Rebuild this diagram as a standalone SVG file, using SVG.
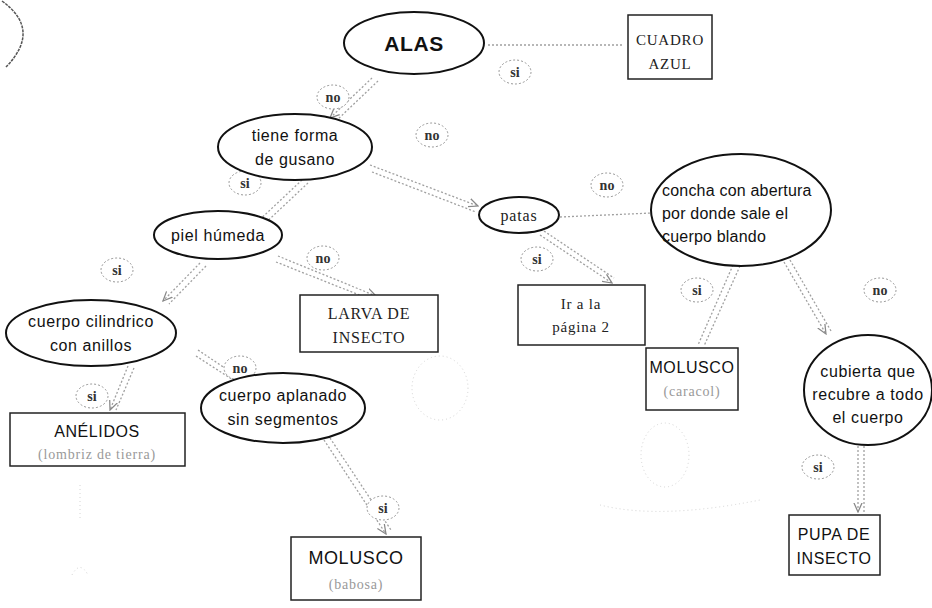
<svg xmlns="http://www.w3.org/2000/svg" width="932" height="608" viewBox="0 0 932 608">
<style>
.n{fill:#fff;stroke:#111;stroke-width:2}
.b{fill:#fff;stroke:#222;stroke-width:1.5}
.t{font-family:"Liberation Sans",Arial,sans-serif;font-size:16px;fill:#111;text-anchor:middle;letter-spacing:0.6px}
.s{font-family:"Liberation Serif","Times New Roman",serif;font-size:16px;fill:#222;text-anchor:middle;letter-spacing:0.8px}
.g{font-family:"Liberation Serif","Times New Roman",serif;font-size:14px;fill:#999;text-anchor:middle;letter-spacing:0.8px}
.c{fill:none;stroke:#a0a0a0;stroke-width:1.3;stroke-dasharray:2 2}
.lc{fill:#fff;stroke:#999;stroke-width:1;stroke-dasharray:2 2}
.lt{font-family:"Liberation Serif","Times New Roman",serif;font-size:14px;font-weight:bold;fill:#333;text-anchor:middle}
.f{fill:none;stroke:#d4d4d4;stroke-width:1;stroke-dasharray:1 3}
</style>
<defs>
<marker id="a" viewBox="0 0 10 10" refX="9" refY="5" markerWidth="8" markerHeight="8" orient="auto">
<path d="M0,1 L9,5 L0,9" fill="none" stroke="#888" stroke-width="1.2"/>
</marker>
</defs>
<rect width="932" height="608" fill="#fff"/>
<path d="M 2 1 Q 42 30 6 67" fill="none" stroke="#555" stroke-width="1.5" stroke-dasharray="3 1"/>
<g id="faint">
<ellipse cx="440" cy="388" rx="28" ry="32" class="f"/>
<ellipse cx="665" cy="455" rx="24" ry="32" class="f"/>
<path d="M 600 505 Q 660 520 760 500" class="f"/>
<path d="M 80 485 L 80 520 M 72 575 Q 80 560 88 575" class="f"/>
</g>
<g id="connectors">
<path class="c" d="M 488 45 L 622 45"/>
<path class="c" d="M 372 78 L 330 118" marker-end="url(#a)"/>
<path class="c" d="M 378 81 L 336 121"/>
<path class="c" d="M 370 165 L 478 206" marker-end="url(#a)"/>
<path class="c" d="M 372 172 L 476 212"/>
<path class="c" d="M 302 180 L 253 226" marker-end="url(#a)"/>
<path class="c" d="M 308 183 L 259 229"/>
<path class="c" d="M 200 263 L 163 301" marker-end="url(#a)"/>
<path class="c" d="M 206 266 L 169 304"/>
<path class="c" d="M 278 256 L 376 296" marker-end="url(#a)"/>
<path class="c" d="M 276 262 L 372 300"/>
<path class="c" d="M 128 366 L 110 410" marker-end="url(#a)"/>
<path class="c" d="M 134 368 L 116 410"/>
<path class="c" d="M 198 350 L 265 395" marker-end="url(#a)"/>
<path class="c" d="M 196 356 L 261 398"/>
<path class="c" d="M 324 440 L 386 534" marker-end="url(#a)"/>
<path class="c" d="M 330 438 L 391 530"/>
<path class="c" d="M 540 235 L 612 283" marker-end="url(#a)"/>
<path class="c" d="M 544 231 L 614 278"/>
<path class="c" d="M 560 217 L 652 213"/>
<path class="c" d="M 733 265 L 698 345"/>
<path class="c" d="M 740 266 L 704 346"/>
<path class="c" d="M 784 262 L 826 334" marker-end="url(#a)"/>
<path class="c" d="M 790 260 L 831 331"/>
<path class="c" d="M 858 446 L 858 512" marker-end="url(#a)"/>
<path class="c" d="M 864 446 L 864 512"/>
</g>
<g id="labels">
<ellipse class="lc" cx="515" cy="72" rx="16" ry="12"/><text class="lt" x="515" y="77">si</text>
<ellipse class="lc" cx="333" cy="97" rx="16" ry="12"/><text class="lt" x="333" y="102">no</text>
<ellipse class="lc" cx="432" cy="135" rx="16" ry="12"/><text class="lt" x="432" y="140">no</text>
<ellipse class="lc" cx="245" cy="183" rx="16" ry="12"/><text class="lt" x="245" y="188">si</text>
<ellipse class="lc" cx="117" cy="270" rx="16" ry="12"/><text class="lt" x="117" y="275">si</text>
<ellipse class="lc" cx="323" cy="258" rx="16" ry="12"/><text class="lt" x="323" y="263">no</text>
<ellipse class="lc" cx="240" cy="368" rx="16" ry="12"/><text class="lt" x="240" y="373">no</text>
<ellipse class="lc" cx="92" cy="396" rx="16" ry="12"/><text class="lt" x="92" y="401">si</text>
<ellipse class="lc" cx="383" cy="508" rx="16" ry="12"/><text class="lt" x="383" y="513">si</text>
<ellipse class="lc" cx="607" cy="185" rx="16" ry="12"/><text class="lt" x="607" y="190">no</text>
<ellipse class="lc" cx="537" cy="259" rx="16" ry="12"/><text class="lt" x="537" y="264">si</text>
<ellipse class="lc" cx="697" cy="290" rx="16" ry="12"/><text class="lt" x="697" y="295">si</text>
<ellipse class="lc" cx="880" cy="290" rx="16" ry="12"/><text class="lt" x="880" y="295">no</text>
<ellipse class="lc" cx="818" cy="467" rx="16" ry="12"/><text class="lt" x="818" y="472">si</text>
</g>
<g id="alas">
<ellipse class="n" cx="414" cy="43" rx="70" ry="31" stroke-width="2.5"/>
<text class="t" x="414" y="51" style="font-size:21px;font-weight:bold">ALAS</text>
</g>
<g id="cuadro-azul">
<rect class="b" x="628" y="15" width="84" height="64"/>
<text class="s" x="670" y="45" style="font-size:15px">CUADRO</text>
<text class="s" x="670" y="69" style="font-size:15px">AZUL</text>
</g>
<g id="tiene-forma">
<ellipse class="n" cx="295" cy="147" rx="77" ry="33"/>
<text class="t" x="295" y="141">tiene forma</text>
<text class="t" x="295" y="165">de gusano</text>
</g>
<g id="piel-humeda">
<ellipse class="n" cx="218" cy="235" rx="64" ry="24"/>
<text class="t" x="218" y="241">piel húmeda</text>
</g>
<g id="larva">
<rect class="b" x="300" y="295" width="138" height="57"/>
<text class="s" x="369" y="319">LARVA DE</text>
<text class="s" x="369" y="343">INSECTO</text>
</g>
<g id="cuerpo-cilindrico">
<ellipse class="n" cx="91" cy="333" rx="85" ry="33"/>
<text class="t" x="91" y="327">cuerpo cilindrico</text>
<text class="t" x="91" y="351">con anillos</text>
</g>
<g id="anelidos">
<rect class="b" x="10" y="413" width="175" height="53"/>
<text class="t" x="97" y="437">ANÉLIDOS</text>
<text class="g" x="97" y="459">(lombriz de tierra)</text>
</g>
<g id="cuerpo-aplanado">
<ellipse class="n" cx="283" cy="408" rx="82" ry="35"/>
<text class="t" x="283" y="401">cuerpo aplanado</text>
<text class="t" x="283" y="425">sin segmentos</text>
</g>
<g id="molusco-babosa">
<rect class="b" x="291" y="537" width="130" height="63"/>
<text class="t" x="356" y="564" style="font-size:18px">MOLUSCO</text>
<text class="g" x="356" y="589">(babosa)</text>
</g>
<g id="patas">
<ellipse class="n" cx="519" cy="215" rx="40" ry="18"/>
<text class="s" x="519" y="221">patas</text>
</g>
<g id="pagina2">
<rect class="b" x="518" y="285" width="127" height="60"/>
<text class="s" x="581" y="309" style="font-size:15px">Ir a la</text>
<text class="s" x="581" y="332" style="font-size:15px">página 2</text>
</g>
<g id="concha">
<ellipse class="n" cx="741" cy="210" rx="90" ry="56"/>
<text class="t" x="662" y="196" style="text-anchor:start;letter-spacing:0.2px">concha con abertura</text>
<text class="t" x="662" y="219" style="text-anchor:start;letter-spacing:0.2px">por donde sale el</text>
<text class="t" x="662" y="242" style="text-anchor:start;letter-spacing:0.2px">cuerpo blando</text>
</g>
<g id="molusco-caracol">
<rect class="b" x="646" y="348" width="92" height="62"/>
<text class="t" x="692" y="373">MOLUSCO</text>
<text class="g" x="692" y="396">(caracol)</text>
</g>
<g id="cubierta">
<ellipse class="n" cx="868" cy="390" rx="64" ry="55"/>
<text class="t" x="868" y="377">cubierta que</text>
<text class="t" x="868" y="400">recubre a todo</text>
<text class="t" x="868" y="423">el cuerpo</text>
</g>
<g id="pupa">
<rect class="b" x="789" y="515" width="91" height="60"/>
<text class="t" x="834" y="540">PUPA DE</text>
<text class="t" x="834" y="564">INSECTO</text>
</g>
</svg>
